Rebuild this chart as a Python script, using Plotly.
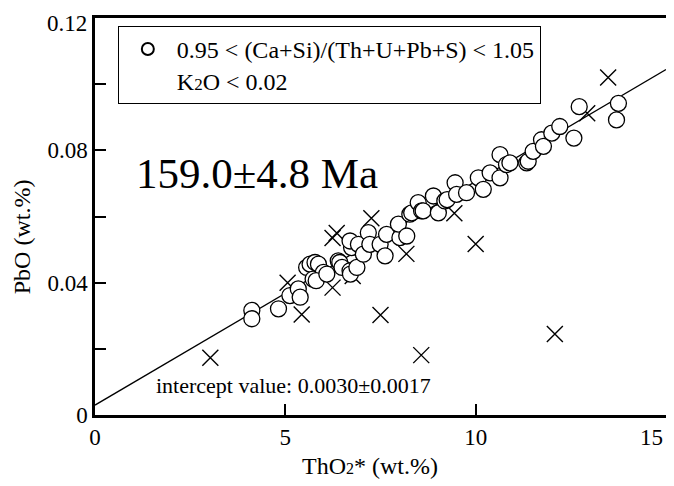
import plotly.graph_objects as go

# Concordant analyses (open circles)
circle_x = [4.12, 4.12, 4.82, 5.12, 5.34, 5.39, 5.56, 5.65, 5.78, 5.87, 5.73, 6.00, 5.81, 6.09,
            6.39, 6.43, 6.49, 6.70, 6.71, 6.74, 6.70, 6.92, 6.88, 7.05, 7.18, 7.22, 7.49, 7.62,
            7.66, 8.01, 7.97, 8.19, 8.27, 8.32, 8.49, 8.58, 8.62, 8.89, 9.02, 9.19, 9.25, 9.46,
            9.50, 9.76, 10.07, 10.20, 10.38, 10.64, 10.64, 10.81, 10.90, 11.34, 11.38, 11.51,
            11.73, 11.78, 12.00, 12.21, 12.58, 12.72, 13.70, 13.75]
circle_y = [0.0316, 0.0291, 0.0321, 0.0361, 0.0381, 0.0356, 0.0446, 0.0456, 0.0461, 0.0456,
            0.0411, 0.0431, 0.0406, 0.0426, 0.0466, 0.0461, 0.0446, 0.0436, 0.0426, 0.0506,
            0.0526, 0.0516, 0.0446, 0.0486, 0.0551, 0.0516, 0.0516, 0.0481, 0.0546, 0.0536,
            0.0577, 0.0541, 0.0607, 0.0611, 0.0642, 0.0617, 0.0617, 0.0662, 0.0611, 0.0647,
            0.0651, 0.0702, 0.0667, 0.0672, 0.0717, 0.0682, 0.0732, 0.0717, 0.0787, 0.0757,
            0.0762, 0.0762, 0.0767, 0.0797, 0.0832, 0.0812, 0.0852, 0.0872, 0.0837, 0.0932,
            0.0892, 0.0942]

# Rejected analyses (crosses)
cross_x = [3.03, 5.43, 7.50, 8.57, 10.00, 12.08, 13.48, 12.93, 6.24, 6.35, 7.26, 8.18,
           6.24, 5.06, 9.44, 6.77]
cross_y = [0.0173, 0.0304, 0.0302, 0.0181, 0.0517, 0.0245, 0.1020, 0.0912, 0.0535, 0.0550,
           0.0595, 0.0487, 0.0385, 0.0400, 0.0610, 0.0420]

# Regression line
intercept = 0.0030
slope = 0.00676
line_x = [0, 15]
line_y = [intercept + slope * v for v in line_x]

x_ticks = [0, 5, 10, 15]
x_ticktext = ["0", "5", "10", ""]
x_last_label = "15"
y_ticks = [0, 0.02, 0.04, 0.06, 0.08, 0.10, 0.12]
y_ticktext = ["0", "", "0.04", "", "0.08", "", ""]
y_top_label = "0.12"

FONT = "Liberation Serif"

fig = go.Figure()
fig.add_trace(go.Scatter(x=line_x, y=line_y, mode="lines",
                         line=dict(color="black", width=1.3), showlegend=False,
                         hoverinfo="skip"))
fig.add_trace(go.Scatter(x=cross_x, y=cross_y, mode="markers",
                         marker=dict(symbol="x-thin", size=16,
                                     line=dict(color="black", width=1.4)),
                         showlegend=False))
fig.add_trace(go.Scatter(x=circle_x, y=circle_y, mode="markers",
                         name="0.95 < (Ca+Si)/(Th+U+Pb+S) < 1.05<br>K<span style='font-size:17px'>2</span>O < 0.02",
                         marker=dict(symbol="circle", size=16, color="white",
                                     line=dict(color="black", width=1.3)),
                         showlegend=True))

fig.add_annotation(x=1.03, y=0.0730, xref="x", yref="y", text="159.0±4.8 Ma",
                   showarrow=False, xanchor="left", yanchor="middle",
                   font=dict(family=FONT, size=43, color="black"))
fig.add_annotation(x=1.55, y=0.0090, xref="x", yref="y",
                   text="intercept value: 0.0030±0.0017",
                   showarrow=False, xanchor="left", yanchor="middle",
                   font=dict(family=FONT, size=22, color="black"))
# edge tick labels kept inside the page
fig.add_annotation(x=x_ticks[-1], y=0, xref="x", yref="y", text=x_last_label,
                   showarrow=False, xanchor="right", yanchor="top", yshift=-8, xshift=-1,
                   font=dict(family=FONT, size=23, color="black"))
fig.add_annotation(x=0, y=y_ticks[-1], xref="x", yref="y", text=y_top_label,
                   showarrow=False, xanchor="right", yanchor="top", yshift=9, xshift=-6,
                   font=dict(family=FONT, size=23, color="black"))
# axis titles
fig.add_annotation(x=0.4816, y=-0.128, xref="paper", yref="paper",
                   text="ThO<span style='font-size:16px'>2</span>* (wt.%)",
                   showarrow=False, xanchor="center", yanchor="middle",
                   font=dict(family=FONT, size=24, color="black"))
fig.add_annotation(x=-0.128, y=0.45, xref="paper", yref="paper",
                   text="PbO (wt.%)", textangle=-90,
                   showarrow=False, xanchor="center", yanchor="middle",
                   font=dict(family=FONT, size=24, color="black"))

fig.update_layout(
    width=666, height=478,
    margin=dict(l=87, r=8, t=10, b=71),
    paper_bgcolor="white", plot_bgcolor="white",
    font=dict(family=FONT, size=22, color="black"),
    legend=dict(x=0.04, y=0.98, xanchor="left", yanchor="top",
                bordercolor="black", borderwidth=1, bgcolor="white",
                font=dict(family=FONT, size=24, color="black"),
                valign="top", itemsizing="constant", itemwidth=48),
)
fig.update_xaxes(range=[0, 15], tickvals=x_ticks, ticktext=x_ticktext,
                 ticks="inside", ticklen=11, tickwidth=2, tickcolor="black",
                 showline=True, linecolor="black", linewidth=2.5, mirror=True,
                 showgrid=False, zeroline=False, automargin=False,
                 ticklabeloverflow="allow",
                 tickfont=dict(family=FONT, size=23))
fig.update_yaxes(range=[0, 0.12], tickvals=y_ticks, ticktext=y_ticktext,
                 ticks="inside", ticklen=11, tickwidth=2, tickcolor="black",
                 showline=True, linecolor="black", linewidth=2.5, mirror=True,
                 showgrid=False, zeroline=False, automargin=False,
                 ticklabeloverflow="allow",
                 tickfont=dict(family=FONT, size=23))

fig.write_html("out.html")
